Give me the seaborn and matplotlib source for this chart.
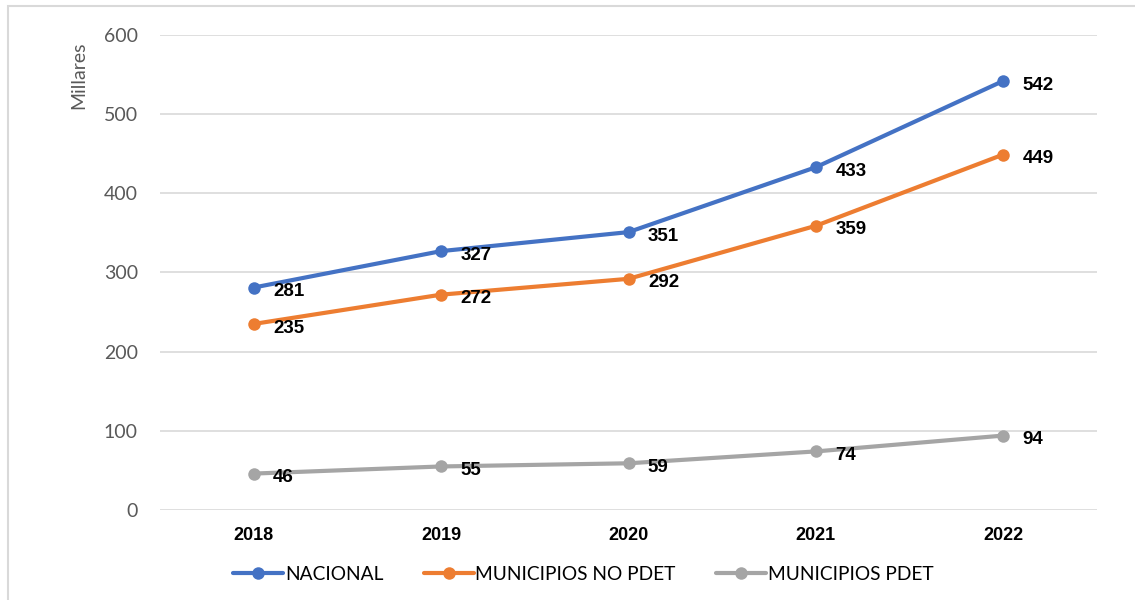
import pandas as pd
import matplotlib.pyplot as plt
import seaborn as sns
from matplotlib.patches import Rectangle
from matplotlib.lines import Line2D

years = ["2018", "2019", "2020", "2021", "2022"]
nacional = [281, 327, 351, 433, 542]
no_pdet = [235, 272, 292, 359, 449]
pdet = [46, 55, 59, 74, 94]

series_names = ["NACIONAL", "MUNICIPIOS NO PDET", "MUNICIPIOS PDET"]
colors = ["#4472C4", "#ED7D31", "#A5A5A5"]

df = pd.DataFrame({
    "Año": years * 3,
    "Valor": nacional + no_pdet + pdet,
    "Serie": [s for s in series_names for _ in years],
})

sns.set_style("white")
plt.rcParams["font.family"] = ["Lato", "DejaVu Sans"]
bold_font = ["Liberation Sans", "DejaVu Sans"]

fig = plt.figure(figsize=(11.35, 6), dpi=100)
ax = fig.add_axes([0.141, 0.15, 0.8255, 0.7917])

sns.lineplot(data=df, x="Año", y="Valor", hue="Serie", hue_order=series_names,
             palette=colors, marker="o", markersize=9, markeredgewidth=0,
             linewidth=3, sort=False, legend=False, ax=ax)

# etiquetas de datos
for name, vals in zip(series_names, [nacional, no_pdet, pdet]):
    for i, v in enumerate(vals):
        ax.annotate(str(v), (i, v), xytext=(14, -3), textcoords="offset points",
                    ha="left", va="center", fontsize=13.5, fontweight="bold",
                    family=bold_font, color="black")

ax.set_xlim(-0.5, 4.5)
ax.set_ylim(0, 600)
ax.set_yticks(range(0, 601, 100))
ax.yaxis.grid(True, color="#D9D9D9", linewidth=1.2)
ax.xaxis.grid(False)
for s in ax.spines.values():
    s.set_visible(False)
ax.tick_params(axis="y", colors="#595959", labelsize=14, length=0, pad=16)
ax.tick_params(axis="x", colors="black", labelsize=13, length=0, pad=12)
for lbl in ax.get_xticklabels():
    lbl.set_fontweight("bold")
    lbl.set_family(bold_font)
ax.set_xlabel("")
ax.set_ylabel("Millares", color="#595959", fontsize=14)
ax.yaxis.set_label_coords(-0.078, 0.916)

handles = [Line2D([0], [0], color=c, linewidth=3, marker="o", markersize=9,
                  markeredgewidth=0) for c in colors]
leg = fig.legend(handles, series_names, loc="center", bbox_to_anchor=(0.514, 0.043),
                 ncol=3, frameon=False, fontsize=13.8, handlelength=2.6,
                 handletextpad=0.1, columnspacing=2.1)
for t in leg.get_texts():
    t.set_color("black")

# borde del gráfico
fig.patches.append(Rectangle((8 / 1135, -0.1), 1.2, 1.1 - 7 / 600 + 0.002,
                             transform=fig.transFigure, fill=False,
                             edgecolor="#D9D9D9", linewidth=1.5))

fig.savefig("out.png", dpi=100)
